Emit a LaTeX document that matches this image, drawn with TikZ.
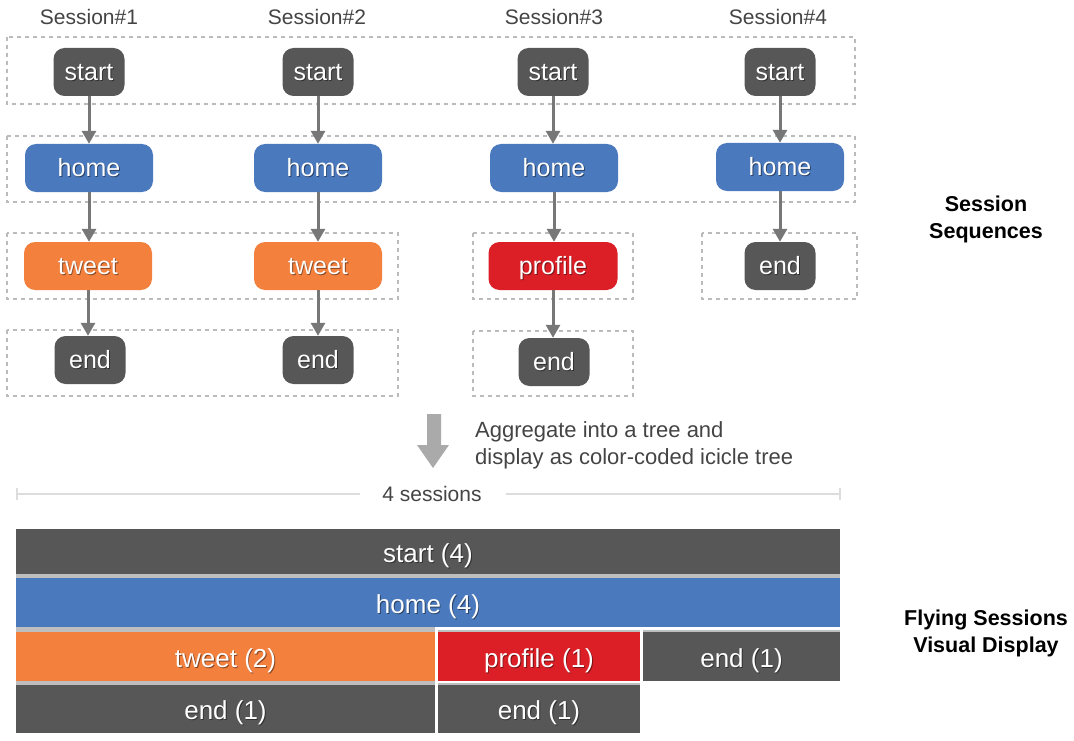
\documentclass[tikz,border=0pt]{standalone}
\usepackage{fontspec}
\setmainfont{Liberation Sans}
\usetikzlibrary{arrows.meta}
\definecolor{dkgray}{HTML}{575757}
\definecolor{hblue}{HTML}{4A7ABD}
\definecolor{horange}{HTML}{F3803D}
\definecolor{hred}{HTML}{DC1F26}
\definecolor{arrgray}{HTML}{777777}
\definecolor{dashgray}{HTML}{BBBBBB}
\definecolor{sepgray}{HTML}{BEBEBE}
\definecolor{txtgray}{HTML}{444444}
\definecolor{bigarr}{HTML}{AAAAAA}
\definecolor{scalegray}{HTML}{DDDDDD}
\newcommand\shtxt[2]{\leavevmode\rlap{\hspace{0.9pt}\raisebox{-1.1pt}{\textcolor{#1!55!black}{#2}}}#2}
\tikzset{
  nd/.style={rounded corners=11pt, minimum height=48pt, text=white, inner sep=0pt,
    text height=17pt, text depth=0pt, font=\fontsize{25}{29}\selectfont},
  dk/.style={nd, fill=dkgray, minimum width=71pt},
  hm/.style={nd, fill=hblue, minimum width=128pt},
  tw/.style={nd, fill=horange, minimum width=128pt},
  pf/.style={nd, fill=hred, minimum width=129pt},
  grp/.style={draw=dashgray, dash pattern=on 4pt off 4pt, line width=1.3pt},
  flow/.style={draw=arrgray, line width=3pt, -{Triangle[width=14pt,length=13pt]}},
  sess/.style={text=txtgray, font=\fontsize{21}{25}\selectfont, inner sep=0pt},
  cell/.style={inner sep=0pt, text=white, text height=21pt, text depth=0pt,
    font=\fontsize{26}{30}\selectfont},
  sep/.style={fill=sepgray},
  side/.style={font=\fontsize{21.5}{27}\selectfont\bfseries, align=center, inner sep=0pt},
}
\begin{document}
\begin{tikzpicture}[x=1pt,y=-1pt]
\useasboundingbox (0,0) rectangle (1074,741);

% session headers
\node[sess] (h1) at (89,17) {Session\#1};
\node[sess] (h2) at (317,17) {Session\#2};
\node[sess] (h3) at (554,17) {Session\#3};
\node[sess] (h4) at (778,17) {Session\#4};

% dashed group frames
\draw[grp] (7,37) rectangle (855,104);
\draw[grp] (7,136) rectangle (855,202);
\draw[grp] (7,233) rectangle (398,299);
\draw[grp] (473,233) rectangle (633,299);
\draw[grp] (702,233) rectangle (857,299);
\draw[grp] (7,330) rectangle (398,396);
\draw[grp] (473,331) rectangle (633,396);

% nodes
\node[dk] (s1a) at (89,72) {\shtxt{dkgray}{start}};
\node[dk] (s2a) at (318,72) {\shtxt{dkgray}{start}};
\node[dk] (s3a) at (553,72) {\shtxt{dkgray}{start}};
\node[dk] (s4a) at (780,72) {\shtxt{dkgray}{start}};
\node[hm] (s1b) at (89,168) {\shtxt{hblue}{home}};
\node[hm] (s2b) at (318,168) {\shtxt{hblue}{home}};
\node[hm] (s3b) at (554,168) {\shtxt{hblue}{home}};
\node[hm] (s4b) at (780,167) {\shtxt{hblue}{home}};
\node[tw] (s1c) at (88,266) {\shtxt{horange}{tweet}};
\node[tw] (s2c) at (318,266) {\shtxt{horange}{tweet}};
\node[pf] (s3c) at (553,266) {\shtxt{hred}{profile}};
\node[dk] (s4c) at (780,266) {\shtxt{dkgray}{end}};
\node[dk] (s1d) at (90,360) {\shtxt{dkgray}{end}};
\node[dk] (s2d) at (318,360) {\shtxt{dkgray}{end}};
\node[dk] (s3d) at (554,362) {\shtxt{dkgray}{end}};

% connectors
\foreach \a/\b in {s1a/s1b,s1b/s1c,s1c/s1d,s2a/s2b,s2b/s2c,s2c/s2d,s3a/s3b,s3b/s3c,s3c/s3d,s4a/s4b,s4b/s4c}
  \draw[flow] (\a.south) -- (\a.south |- \b.north);

% right labels
\node[side] (lab1) at (986,219) {Session\\Sequences};
\node[side] (lab2) at (986,633) {Flying Sessions\\Visual Display};

% big arrow
\fill[bigarr] (427,414) -- (441,414) -- (441,445) -- (449,445) -- (433,468) -- (417,445) -- (427,445) -- cycle;
\node[anchor=west, align=left, text=txtgray, inner sep=0pt,
  font=\fontsize{22}{27}\selectfont] (agg) at (475,445) {Aggregate into a tree and\\display as color-coded icicle tree};

% scale bar
\node[sess] (scl) at (432,494) {4 sessions};
\coordinate (sl) at (17,494);
\coordinate (sr) at (840,494);
\draw[scalegray, line width=2pt] (sl) -- (360,494);
\draw[scalegray, line width=2pt] (506,494) -- (sr);
\draw[scalegray, line width=2pt] (17,488) -- (17,500);
\draw[scalegray, line width=2pt] (840,488) -- (840,500);

% icicle
\node[cell, fill=dkgray, minimum width=824pt, minimum height=45pt] (i1) at (428,551.5) {\shtxt{dkgray}{start (4)}};
\fill[sep] (16,574) rectangle (840,578);
\node[cell, fill=hblue, minimum width=824pt, minimum height=49pt] (i2) at (428,602.5) {\shtxt{hblue}{home (4)}};
\fill[sep] (16,627) rectangle (435,632);
\fill[sep] (438,629.5) rectangle (640,632);
\fill[sep] (643,629.5) rectangle (840,632);
\node[cell, fill=horange, minimum width=419pt, minimum height=49pt] (i3a) at (225.5,656.5) {\shtxt{horange}{tweet (2)}};
\node[cell, fill=hred, minimum width=202pt, minimum height=49pt] (i3b) at (539,656.5) {\shtxt{hred}{profile (1)}};
\node[cell, fill=dkgray, minimum width=197pt, minimum height=49pt] (i3c) at (741.5,656.5) {\shtxt{dkgray}{end (1)}};
\fill[sep] (16,681) rectangle (435,685);
\fill[sep] (438,682.5) rectangle (640,685);
\node[cell, fill=dkgray, minimum width=419pt, minimum height=48pt] (i4a) at (225.5,709) {\shtxt{dkgray}{end (1)}};
\node[cell, fill=dkgray, minimum width=202pt, minimum height=48pt] (i4b) at (539,709) {\shtxt{dkgray}{end (1)}};
\end{tikzpicture}
\end{document}
